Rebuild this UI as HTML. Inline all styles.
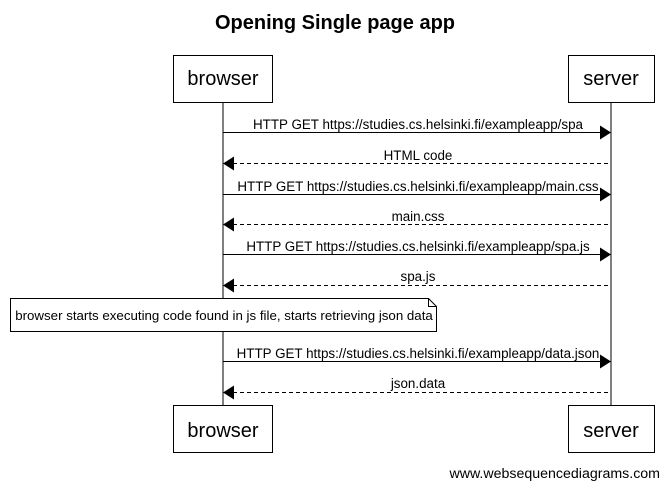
<!DOCTYPE html>
<html><head><meta charset="utf-8"><style>
html,body{margin:0;padding:0;background:#fff;}
svg{display:block;font-family:"Liberation Sans",Arial,sans-serif;}
</style></head><body>
<svg width="669" height="488" viewBox="0 0 669 488" xmlns="http://www.w3.org/2000/svg">
<rect width="669" height="488" fill="#fff"/>
<text x="335" y="29" text-anchor="middle" font-size="20" font-weight="bold">Opening Single page app</text>
<line x1="223" y1="102" x2="223" y2="405" stroke="#000" stroke-width="1"/>
<line x1="611" y1="102" x2="611" y2="405" stroke="#000" stroke-width="1"/>
<g fill="#fff" stroke="#000" stroke-width="1">
<rect x="173.5" y="55.5" width="99" height="47"/>
<rect x="568.5" y="55.5" width="86" height="47"/>
<rect x="173.5" y="405.5" width="99" height="47"/>
<rect x="568.5" y="405.5" width="86" height="47"/>
</g>
<g font-size="20" text-anchor="middle">
<text x="223" y="85">browser</text>
<text x="611" y="85">server</text>
<text x="223" y="437">browser</text>
<text x="611" y="437">server</text>
</g>
<g stroke="#000" stroke-width="1">
<line x1="223" y1="132.5" x2="601" y2="132.5"/>
<line x1="233" y1="163.5" x2="611" y2="163.5" stroke-dasharray="4,3"/>
<line x1="223" y1="194.5" x2="601" y2="194.5"/>
<line x1="233" y1="224.5" x2="611" y2="224.5" stroke-dasharray="4,3"/>
<line x1="223" y1="254.5" x2="601" y2="254.5"/>
<line x1="233" y1="285.5" x2="611" y2="285.5" stroke-dasharray="4,3"/>
<line x1="223" y1="361.5" x2="601" y2="361.5"/>
<line x1="233" y1="392.5" x2="611" y2="392.5" stroke-dasharray="4,3"/>
</g>
<g fill="#000">
<polygon points="611,132.5 600,125.5 600,139.5"/>
<polygon points="223,163.5 234,156.5 234,170.5"/>
<polygon points="611,194.5 600,187.5 600,201.5"/>
<polygon points="223,224.5 234,217.5 234,231.5"/>
<polygon points="611,254.5 600,247.5 600,261.5"/>
<polygon points="223,285.5 234,278.5 234,292.5"/>
<polygon points="611,361.5 600,354.5 600,368.5"/>
<polygon points="223,392.5 234,385.5 234,399.5"/>
</g>
<g font-size="13.4" text-anchor="middle">
<text x="418" y="129">HTTP GET https://studies.cs.helsinki.fi/exampleapp/spa</text>
<text x="418" y="160">HTML code</text>
<text x="418" y="191">HTTP GET https://studies.cs.helsinki.fi/exampleapp/main.css</text>
<text x="418" y="221">main.css</text>
<text x="418" y="251">HTTP GET https://studies.cs.helsinki.fi/exampleapp/spa.js</text>
<text x="418" y="281">spa.js</text>
<text x="418" y="358">HTTP GET https://studies.cs.helsinki.fi/exampleapp/data.json</text>
<text x="418" y="388">json.data</text>
</g>
<path d="M10.5,298.5 H428.5 L436.5,306.5 V331.5 H10.5 Z" fill="#fff" stroke="#000" stroke-width="1"/>
<path d="M428.5,298.5 V306.5 H436.5" fill="none" stroke="#000" stroke-width="1"/>
<text x="224" y="320" font-size="13.3" text-anchor="middle">browser starts executing code found in js file, starts retrieving json data</text>
<text x="660" y="478" font-size="14.2" text-anchor="end">www.websequencediagrams.com</text>
</svg>
</body></html>
